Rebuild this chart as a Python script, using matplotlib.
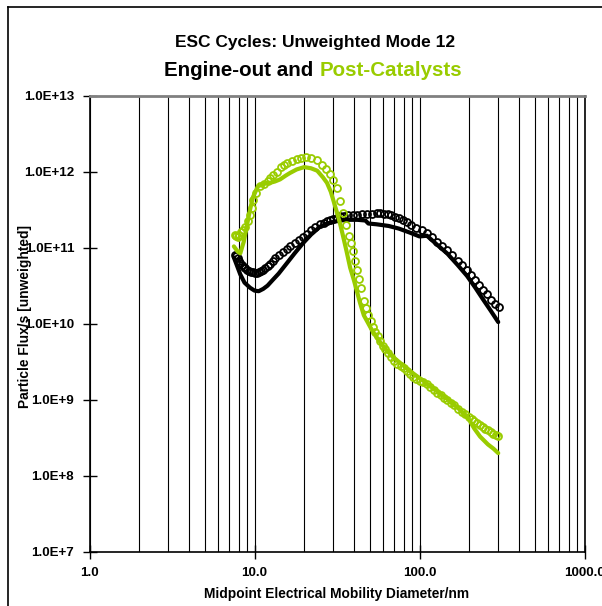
import matplotlib
matplotlib.use("Agg")
import matplotlib.pyplot as plt
from matplotlib.lines import Line2D
from matplotlib.ticker import NullLocator, LogLocator

plt.rcParams["font.family"] = ["Liberation Sans", "DejaVu Sans"]

GREEN = "#99cc00"

# engine-out, circles (upper black band)
eo_pts_x = [7.6, 7.75, 7.9, 8.05, 8.2, 8.4, 8.6, 8.8, 9.0, 9.25, 9.5, 9.75,
            10.0, 10.3, 10.6, 10.9, 11.3, 11.6, 12.0, 12.4, 12.9, 13.4, 14.0,
            14.8, 15.7, 16.5, 17.5, 18.5, 19.7, 20.8, 22.0, 23.4, 24.9, 26.2,
            27.5, 28.8, 30.0, 31.5, 33.0, 35.0, 37.0, 39.5, 42.0, 45.0, 48.0,
            51.5, 55.0, 58.0, 61.0, 64.0, 67.0, 71.0, 75.0, 79.0, 84.0, 89.0,
            95.0, 103.0, 111.0, 119.0, 128.0, 137.0, 147.0, 158.0, 170.0,
            182.0, 194.0, 206.0, 218.0, 230.0, 243.0, 256.0, 270.0, 285.0,
            303.0]
eo_pts_y = [8.1e10, 7.8e10, 7.3e10, 6.8e10, 6.4e10, 6.0e10, 5.7e10, 5.4e10,
            5.2e10, 5.0e10, 4.9e10, 4.8e10, 4.75e10, 4.75e10, 4.85e10, 5.0e10,
            5.2e10, 5.5e10, 5.8e10, 6.2e10, 6.7e10, 7.3e10, 8.0e10, 8.8e10,
            9.7e10, 1.05e11, 1.15e11, 1.27e11, 1.4e11, 1.55e11, 1.7e11,
            1.88e11, 2.05e11, 2.15e11, 2.25e11, 2.33e11, 2.4e11, 2.5e11,
            2.6e11, 2.65e11, 2.7e11, 2.72e11, 2.75e11, 2.78e11, 2.8e11,
            2.83e11, 2.85e11, 2.86e11, 2.84e11, 2.78e11, 2.7e11, 2.58e11,
            2.45e11, 2.33e11, 2.2e11, 2.03e11, 1.85e11, 1.72e11, 1.57e11,
            1.38e11, 1.2e11, 1.06e11, 9.4e10, 8.0e10, 6.8e10, 5.9e10, 5.1e10,
            4.4e10, 3.8e10, 3.3e10, 2.8e10, 2.45e10, 2.1e10, 1.85e10, 1.65e10]

# engine-out, solid line
eo_line_x = [7.5, 7.8, 8.2, 8.7, 9.4, 10.0, 10.6, 11.3, 12.0, 12.9, 14.0, 15.7,
             17.5, 19.7, 22.0, 24.9, 27.5, 30.0, 33.0, 37.0, 42.0, 47.0, 49.0,
             55.0, 65.0, 75.0, 87.0, 100.0, 111.0, 128.0, 147.0, 170.0, 194.0,
             218.0, 243.0, 270.0, 300.0]
eo_line_y = [7.5e10, 6.0e10, 4.5e10, 3.5e10, 3.0e10, 2.75e10, 2.7e10, 2.9e10,
             3.2e10, 3.8e10, 4.6e10, 6.3e10, 8.5e10, 1.16e11, 1.5e11, 1.9e11,
             2.1e11, 2.2e11, 2.3e11, 2.35e11, 2.35e11, 2.3e11, 2.1e11, 2.05e11,
             1.95e11, 1.8e11, 1.6e11, 1.42e11, 1.45e11, 1.1e11, 8.5e10, 6.0e10,
             4.3e10, 3.0e10, 2.1e10, 1.5e10, 1.06e10]

# post-catalysts, circles
pc_pts_x = [7.6, 7.75, 7.9, 8.1, 8.3, 8.5, 8.8, 9.1, 9.4, 9.6, 9.8, 10.2, 10.8,
            11.4, 12.0, 12.5, 12.9, 13.6, 14.5, 15.1, 15.7, 16.8, 18.0, 19.2,
            20.5, 22.0, 23.9, 25.5, 27.0, 28.7, 30.0, 31.6, 33.0, 34.4, 36.0,
            37.5, 38.5, 39.5, 40.6, 41.8, 43.0, 44.0, 46.0, 47.5, 48.8, 50.5,
            52.0, 54.0, 56.0, 58.0, 60.0, 62.0, 64.0, 67.0, 70.0, 73.5, 77.0,
            80.5, 84.0, 87.5, 91.0, 95.5, 100.0, 105.0, 111.0, 116.0, 122.0,
            128.0, 135.0, 141.0, 147.0, 155.0, 162.0, 171.0, 180.0, 190.0,
            200.0, 207.0, 215.0, 224.0, 233.0, 241.0, 250.0, 260.0, 270.0,
            280.0, 290.0, 300.0]
pc_pts_y = [1.5e11, 1.42e11, 1.4e11, 1.48e11, 1.6e11, 1.72e11, 1.9e11, 2.3e11,
            2.7e11, 3.4e11, 4.3e11, 5.3e11, 6.5e11, 7.0e11, 7.6e11, 8.3e11,
            9.0e11, 1.0e12, 1.15e12, 1.22e12, 1.3e12, 1.4e12, 1.5e12, 1.55e12,
            1.57e12, 1.52e12, 1.42e12, 1.25e12, 1.1e12, 9.5e11, 7.8e11, 6.2e11,
            4.2e11, 2.9e11, 2.0e11, 1.45e11, 1.15e11, 9.0e10, 6.8e10, 5.2e10,
            3.9e10, 3.0e10, 2.0e10, 1.6e10, 1.3e10, 1.08e10, 9.0e9, 7.9e9,
            7.0e9, 6.0e9, 5.2e9, 4.7e9, 4.2e9, 3.7e9, 3.3e9, 3.0e9, 2.8e9,
            2.6e9, 2.4e9, 2.2e9, 2.0e9, 1.9e9, 1.8e9, 1.7e9, 1.6e9, 1.48e9,
            1.35e9, 1.25e9, 1.15e9, 1.07e9, 1.0e9, 9.2e8, 8.5e8, 7.7e8, 7.0e8,
            6.5e8, 6.0e8, 5.6e8, 5.3e8, 5.0e8, 4.7e8, 4.4e8, 4.2e8, 4.0e8,
            3.8e8, 3.6e8, 3.5e8, 3.4e8]

# post-catalysts, solid line
pc_line_x = [7.5, 7.9, 8.2, 8.6, 9.0, 9.4, 9.8, 10.5, 11.5, 12.4, 13.3, 14.3,
             15.5, 16.4, 18.0, 20.0, 22.0, 24.0, 26.0, 27.5, 29.0, 30.0, 31.5,
             33.0, 34.5, 36.0, 38.0, 40.0, 43.6, 46.0, 52.0, 55.0, 62.0, 70.0,
             76.0, 90.0, 105.0, 125.0, 150.0, 175.0, 197.0, 215.0, 233.0,
             260.0, 280.0, 300.0]
pc_line_y = [1.05e11, 9.0e10, 8.5e10, 1.2e11, 2.0e11, 3.2e11, 4.7e11, 6.5e11,
             7.0e11, 7.2e11, 7.5e11, 8.0e11, 9.0e11, 9.7e11, 1.08e12, 1.16e12,
             1.12e12, 1.04e12, 8.5e11, 7.2e11, 5.5e11, 4.3e11, 3.0e11, 2.1e11,
             1.4e11, 9.4e10, 5.5e10, 3.8e10, 1.9e10, 1.3e10, 8.0e9, 6.7e9,
             4.7e9, 3.6e9, 3.1e9, 2.3e9, 1.8e9, 1.35e9, 1.0e9, 7.5e8, 5.8e8,
             4.2e8, 3.3e8, 2.6e8, 2.3e8, 2.0e8]

x_ticks = [1, 10, 100, 1000]
x_tick_labels = ["1.0", "10.0", "100.0", "1000.0"]
y_ticks = [1e7, 1e8, 1e9, 1e10, 1e11, 1e12, 1e13]
y_tick_labels = ["1.0E+7", "1.0E+8", "1.0E+9", "1.0E+10", "1.0E+11",
                 "1.0E+12", "1.0E+13"]

W, H = 602, 606
fig = plt.figure(figsize=(W / 100, H / 100), dpi=100)
ax = fig.add_axes([89.5 / W, 1 - 552 / H, 495 / W, 456 / H])

ax.set_xscale("log")
ax.set_yscale("log")

ax.plot(eo_line_x, eo_line_y, "-", color="black", lw=3, solid_capstyle="round")
ax.plot(eo_pts_x, eo_pts_y, "o", mfc="none", mec="black", ms=5, mew=1.3)
ax.plot(pc_line_x, pc_line_y, "-", color=GREEN, lw=3, solid_capstyle="round")
ax.plot(pc_pts_x, pc_pts_y, "o", mfc="none", mec=GREEN, ms=5, mew=1.3)

ax.set_xlim(1, 1000)
ax.set_ylim(1e7, 1e13)
ax.set_xticks(x_ticks, labels=x_tick_labels)
ax.set_yticks(y_ticks, labels=y_tick_labels)
ax.xaxis.set_minor_locator(LogLocator(base=10, subs=range(2, 10)))
ax.yaxis.set_minor_locator(NullLocator())
ax.grid(True, which="both", axis="x", color="black", lw=0.8)
ax.set_axisbelow(True)

ax.tick_params(axis="y", which="major", direction="inout", length=10,
               width=1, pad=6, labelsize=9.6)
ax.tick_params(axis="x", which="major", direction="inout", length=10,
               width=1, pad=6, labelsize=9.6)
ax.tick_params(axis="x", which="minor", length=0)
for lab in ax.get_xticklabels() + ax.get_yticklabels():
    lab.set_fontweight("bold")

ax.spines["top"].set_color("#808080")
ax.spines["top"].set_linewidth(2)
for s in ("left", "bottom", "right"):
    ax.spines[s].set_color("black")
    ax.spines[s].set_linewidth(1.2)

fig.text(337 / W, 1 - 594 / H, "Midpoint Electrical Mobility Diameter/nm",
         ha="center", va="center", fontsize=9.9, fontweight="bold")
fig.text(25 / W, 1 - 316 / H, "Particle Flux/s [unweighted]", rotation=90,
         ha="center", va="center", fontsize=9.9, fontweight="bold")

# title, second line in two colours
fig.text(315 / W, 1 - 47 / H, "ESC Cycles: Unweighted Mode 12",
         ha="center", va="baseline", fontsize=12.5, fontweight="bold")
part1, part2 = "Engine-out and ", "Post-Catalysts"
cx, cy = 313 / W, 1 - 76 / H
fig.canvas.draw()
r = fig.canvas.get_renderer()
probe = fig.text(cx, cy, part1 + part2, ha="center", va="baseline",
                 fontsize=14.8, fontweight="bold")
bb = probe.get_window_extent(r).transformed(fig.transFigure.inverted())
probe.remove()
fig.text(bb.x0, cy, part1, ha="left", va="baseline", fontsize=14.8,
         fontweight="bold")
fig.text(bb.x1, cy, part2, ha="right", va="baseline", fontsize=14.8,
         fontweight="bold", color=GREEN)

# chart-area border (clipped at right and bottom)
fig.add_artist(Line2D([8 / W, 8 / W], [0, 1 - 7 / H], color="black", lw=1.2,
                      transform=fig.transFigure))
fig.add_artist(Line2D([8 / W, 1], [1 - 7 / H, 1 - 7 / H], color="black",
                      lw=1.2, transform=fig.transFigure))

fig.savefig("out.png", dpi=100)
